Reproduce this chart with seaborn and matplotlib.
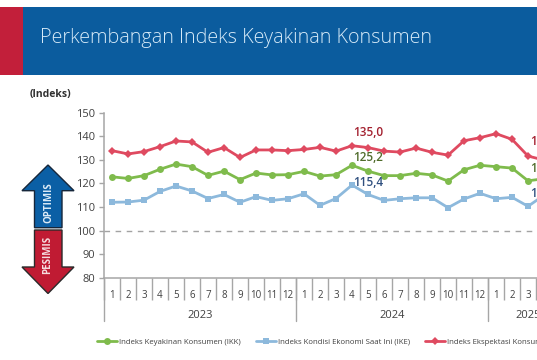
import pandas as pd
import numpy as np
import seaborn as sns
import matplotlib.pyplot as plt
from matplotlib.patches import Polygon, Rectangle

# =========================
# DATA
# =========================

months = [1, 2, 3, 4, 5, 6, 7, 8, 9, 10, 11, 12,
          1, 2, 3, 4, 5, 6, 7, 8, 9, 10, 11, 12,
          1, 2, 3, 4]
years = ["2023", "2024", "2025"]
yticks = [80, 90, 100, 110, 120, 130, 140, 150]

ikk = [122.8, 122.1, 123.3, 126.0, 128.2, 127.1, 123.4, 125.2, 121.6, 124.4, 123.6, 123.7,
       125.1, 123.1, 123.7, 127.7, 125.2, 123.3, 123.3, 124.3, 123.6, 121.0, 125.8, 127.7,
       127.1, 126.5, 121.1, 122.0]
ike = [112.0, 112.1, 112.9, 116.6, 118.9, 116.8, 113.6, 115.3, 112.0, 114.4, 112.8, 113.5,
       115.6, 110.7, 113.6, 119.3, 115.3, 112.8, 113.5, 113.9, 113.9, 109.7, 113.4, 115.8,
       113.5, 114.1, 110.3, 115.0]
iek = [133.9, 132.5, 133.5, 135.6, 138.0, 137.6, 133.2, 135.2, 131.0, 134.2, 134.2, 133.9,
       134.4, 135.3, 133.7, 136.0, 135.2, 133.7, 133.3, 135.0, 133.2, 132.0, 138.1, 139.4,
       141.1, 138.7, 131.6, 129.9]

names = ["Indeks Keyakinan Konsumen (IKK)",
         "Indeks Kondisi Ekonomi Saat Ini (IKE)",
         "Indeks Ekspektasi Konsumen (IEK)"]
colors = ["#7FBB4C", "#8DB9DC", "#DF4A60"]

df = pd.DataFrame({"idx": list(range(len(months))) * 3,
                   "val": ikk + ike + iek,
                   "seri": [n for n in names for _ in months]})

# =========================
# FIGURE
# =========================

sns.set_theme(style="white")
plt.rcParams['font.family'] = ['Open Sans', 'DejaVu Sans']

W, H = 537, 360
fig = plt.figure(figsize=(W / 100, H / 100), dpi=100, facecolor="white")

# overlay in pixel coordinates for banner, arrows and free text
deco = fig.add_axes([0, 0, 1, 1], zorder=5)
deco.set_xlim(0, W)
deco.set_ylim(H, 0)
deco.axis("off")
deco.patch.set_alpha(0)

ax = fig.add_axes([104 / W, 1 - 277.7 / H, (W - 104) / W, 165 / H])

# =========================
# LINES
# =========================

sns.lineplot(data=df, x="idx", y="val", hue="seri", style="seri",
             hue_order=names, style_order=names, palette=colors,
             dashes=False, markers=["o", "s", "D"], lw=2.0, ms=5,
             markeredgewidth=0, ax=ax, legend=True)

# red series has smaller markers
ax.lines[2].set_markersize(3.6)

ax.axhline(100, color="#A3A3A3", lw=1, ls=(0, (4, 4)))

ax.set_ylim(80, 150)
ax.set_xlabel("")
ax.set_ylabel("")
ax.patch.set_alpha(0)

for s in ["top", "right"]:
    ax.spines[s].set_visible(False)
for s in ["left", "bottom"]:
    ax.spines[s].set_color("#A6A6A6")
    ax.spines[s].set_linewidth(1.1)

ax.set_yticks(yticks)
ax.tick_params(axis="y", length=3.5, width=1, color="#A6A6A6", left=True,
               labelsize=8, labelcolor="#404040", pad=3)

ax.set_xticks(range(len(months)))
ax.set_xticklabels(months)
ax.tick_params(axis="x", which="major", length=0, labelsize=7, labelcolor="#404040", pad=8.5)
ax.set_xticks(np.arange(-0.5, len(months), 1), minor=True)
ax.tick_params(axis="x", which="minor", length=16, width=1, color="#A6A6A6", bottom=True)

# set after the ticks, otherwise set_xticks widens the view
ax.set_xlim(-0.5, 26.56)

# year separators and labels below the month ticks
trans = ax.get_xaxis_transform()
for x in [-0.5, 11.5, 23.5]:
    ax.plot([x, x], [0, -0.26], transform=trans, color="#A6A6A6", lw=1, clip_on=False)
for x, y in zip([5.5, 17.5, 26], years):
    ax.text(x, -0.228, y, transform=trans, ha="center", va="center",
            fontsize=8, color="#404040")

# value labels
ax.text(16, 141.4, "135,0", ha="center", va="center", fontsize=8.5, fontweight="semibold", color="#A3202F")
ax.text(16, 131.2, "125,2", ha="center", va="center", fontsize=8.5, fontweight="semibold", color="#4F6B2A")
ax.text(16, 120.6, "115,4", ha="center", va="center", fontsize=8.5, fontweight="semibold", color="#2F4F7F")
ax.text(26.1, 137.6, "131,7", ha="left", va="center", fontsize=8.5, fontweight="semibold", color="#A3202F")
ax.text(26.1, 126.5, "121,1", ha="left", va="center", fontsize=8.5, fontweight="semibold", color="#4F6B2A")
ax.text(26.1, 115.9, "110,5", ha="left", va="center", fontsize=8.5, fontweight="semibold", color="#2F4F7F")

# legend
leg = ax.legend(title=None, ncols=3, frameon=False, loc="center left",
                bbox_to_anchor=(97 / W, 1 - 342 / H), bbox_transform=fig.transFigure,
                fontsize=5.6, handlelength=2.6, handletextpad=0.25, columnspacing=1.9,
                borderpad=0, borderaxespad=0, labelcolor="#404040")
leg.legend_handles[2].set_markersize(3.6)

# =========================
# BANNER AND ARROWS
# =========================

deco.add_patch(Rectangle((0, 7), W, 67.5, fc="#0B5C9E", ec="none"))
deco.add_patch(Rectangle((0, 7), 23, 67.5, fc="#C21F3A", ec="none"))
deco.text(40, 37.5, "Perkembangan Indeks Keyakinan Konsumen", ha="left", va="center",
          fontsize=14.2, color="#D6EAF8", fontweight="light")
deco.text(30, 94, "(Indeks)", ha="left", va="center", fontsize=7.5,
          fontweight="bold", color="#303030")

deco.add_patch(Polygon([(48, 165), (74, 190.7), (62, 190.7), (62, 227.7), (34.5, 227.7),
                        (34.5, 190.7), (22, 190.7)], fc="#0B5FA5", ec="#16263A", lw=1))
deco.add_patch(Polygon([(34.5, 230), (62, 230), (62, 267), (74, 267), (48, 293.5),
                        (22, 267), (34.5, 267)], fc="#C01B33", ec="#2A2A2A", lw=1))
deco.text(49, 203, "OPTIMIS", rotation=90, ha="center", va="center", fontsize=7,
          fontweight="bold", color="#DCEBF7")
deco.text(48, 255, "PESIMIS", rotation=90, ha="center", va="center", fontsize=7,
          fontweight="bold", color="#F6DDE0")

fig.savefig("out.png", dpi=100)
